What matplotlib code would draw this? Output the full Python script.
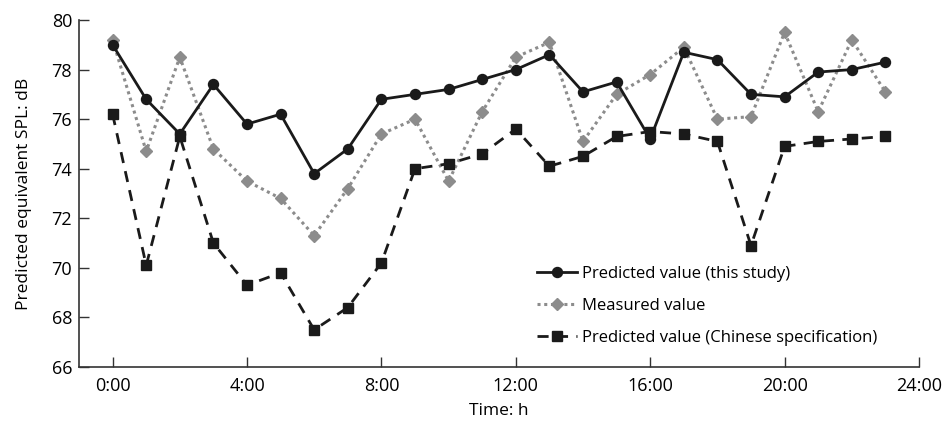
import matplotlib
matplotlib.use("Agg")
import matplotlib.pyplot as plt

hours = list(range(24))
pred_this_study = [79.0, 76.8, 75.4, 77.4, 75.8, 76.2, 73.8, 74.8, 76.8, 77.0, 77.2, 77.6,
                   78.0, 78.6, 77.1, 77.5, 75.2, 78.7, 78.4, 77.0, 76.9, 77.9, 78.0, 78.3]
measured = [79.2, 74.7, 78.5, 74.8, 73.5, 72.8, 71.3, 73.2, 75.4, 76.0, 73.5, 76.3,
            78.5, 79.1, 75.1, 77.0, 77.8, 78.9, 76.0, 76.1, 79.5, 76.3, 79.2, 77.1]
pred_chinese = [76.2, 70.1, 75.3, 71.0, 69.3, 69.8, 67.5, 68.4, 70.2, 74.0, 74.2, 74.6,
                75.6, 74.1, 74.5, 75.3, 75.5, 75.4, 75.1, 70.9, 74.9, 75.1, 75.2, 75.3]
xtick_vals = [0, 4, 8, 12, 16, 20, 24]
xtick_labels = ["0:00", "4:00", "8:00", "12:00", "16:00", "20:00", "24:00"]

plt.rcParams["font.family"] = ["Open Sans", "DejaVu Sans"]

fig = plt.figure(figsize=(9.46, 4.25), dpi=100)
ax = fig.add_axes([79 / 946, 1 - 367 / 425, (919 - 79) / 946, (367 - 20) / 425])

ax.plot(hours, measured, color="#8c8c8c", linestyle=(0, (1, 1.2)), linewidth=2.2,
        marker="D", markersize=6.5, markerfacecolor="#8c8c8c", markeredgecolor="#8c8c8c",
        label="Measured value", zorder=2)
ax.plot(hours, pred_chinese, color="#1a1a1a", linestyle=(0, (4, 3)), linewidth=2,
        marker="s", markersize=7, label="Predicted value (Chinese specification)", zorder=2)
ax.plot(hours, pred_this_study, color="#1a1a1a", linestyle="-", linewidth=2,
        marker="o", markersize=7.2, label="Predicted value (this study)", zorder=3)

ax.set_xlim(-1, 24)
ax.set_ylim(66, 80)
ax.set_xticks(xtick_vals)
ax.set_xticklabels(xtick_labels)
ax.set_yticks(range(66, 81, 2))
ax.tick_params(direction="in", length=7, width=1, labelsize=13, color="#333333")
ax.tick_params(axis="x", pad=7)
ax.tick_params(axis="y", pad=5)
for s in ["top", "right"]:
    ax.spines[s].set_visible(False)
for s in ["left", "bottom"]:
    ax.spines[s].set_linewidth(1.2)
    ax.spines[s].set_color("#333333")

ax.set_xlabel("Time: h", fontsize=12.5, labelpad=6)
ax.set_ylabel("Predicted equivalent SPL: dB", fontsize=12.5, labelpad=14)

handles, labels = ax.get_legend_handles_labels()
order = [2, 0, 1]
ax.legend([handles[i] for i in order], [labels[i] for i in order],
          loc="lower left", bbox_to_anchor=(0.527, 0.018), frameon=False,
          fontsize=12, handlelength=2.4, handletextpad=0.3, labelspacing=0.95)

fig.savefig("out.png", dpi=100)
